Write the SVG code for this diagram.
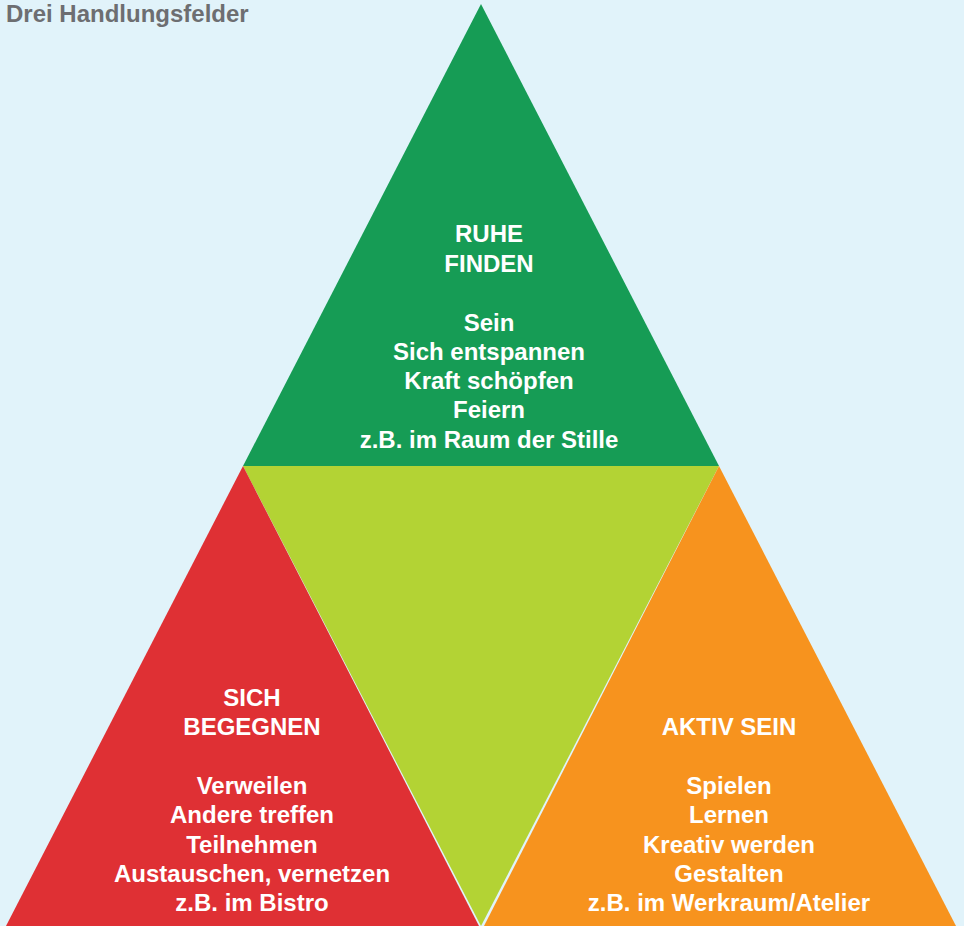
<svg xmlns="http://www.w3.org/2000/svg" width="964" height="926" viewBox="0 0 964 926">
<style>
.t{font-family:"Liberation Sans",Arial,sans-serif;font-weight:bold;font-size:24px;fill:#ffffff;text-anchor:middle}
.title{font-family:"Liberation Sans",Arial,sans-serif;font-weight:bold;font-size:24px;fill:#6d6e71}
</style>
<rect width="964" height="926" fill="#e1f3fa"/>
<text class="title" x="6" y="22">Drei Handlungsfelder</text>
<g id="mitte"><polygon points="243,466 719,466 481,926" fill="#b3d334"/></g>
<g id="ruhe-finden">
<polygon points="481,4 243,466 719,466" fill="#169c55"/>
<text class="t" x="489" y="242">RUHE</text>
<text class="t" x="489" y="272">FINDEN</text>
<text class="t" x="489" y="331">Sein</text>
<text class="t" x="489" y="360">Sich entspannen</text>
<text class="t" x="489" y="389">Kraft schöpfen</text>
<text class="t" x="489" y="418">Feiern</text>
<text class="t" x="489" y="448">z.B. im Raum der Stille</text>
</g>
<g id="sich-begegnen">
<polygon points="243,466 6,926 479,926" fill="#df3034"/>
<text class="t" x="252" y="706">SICH</text>
<text class="t" x="252" y="735">BEGEGNEN</text>
<text class="t" x="252" y="794">Verweilen</text>
<text class="t" x="252" y="823">Andere treffen</text>
<text class="t" x="252" y="853">Teilnehmen</text>
<text class="t" x="252" y="882">Austauschen, vernetzen</text>
<text class="t" x="252" y="911">z.B. im Bistro</text>
</g>
<g id="aktiv-sein">
<polygon points="719,466 484,926 956,926" fill="#f7931e"/>
<text class="t" x="729" y="735">AKTIV SEIN</text>
<text class="t" x="729" y="794">Spielen</text>
<text class="t" x="729" y="823">Lernen</text>
<text class="t" x="729" y="853">Kreativ werden</text>
<text class="t" x="729" y="882">Gestalten</text>
<text class="t" x="729" y="911">z.B. im Werkraum/Atelier</text>
</g>
<g id="connectors"/>
</svg>
